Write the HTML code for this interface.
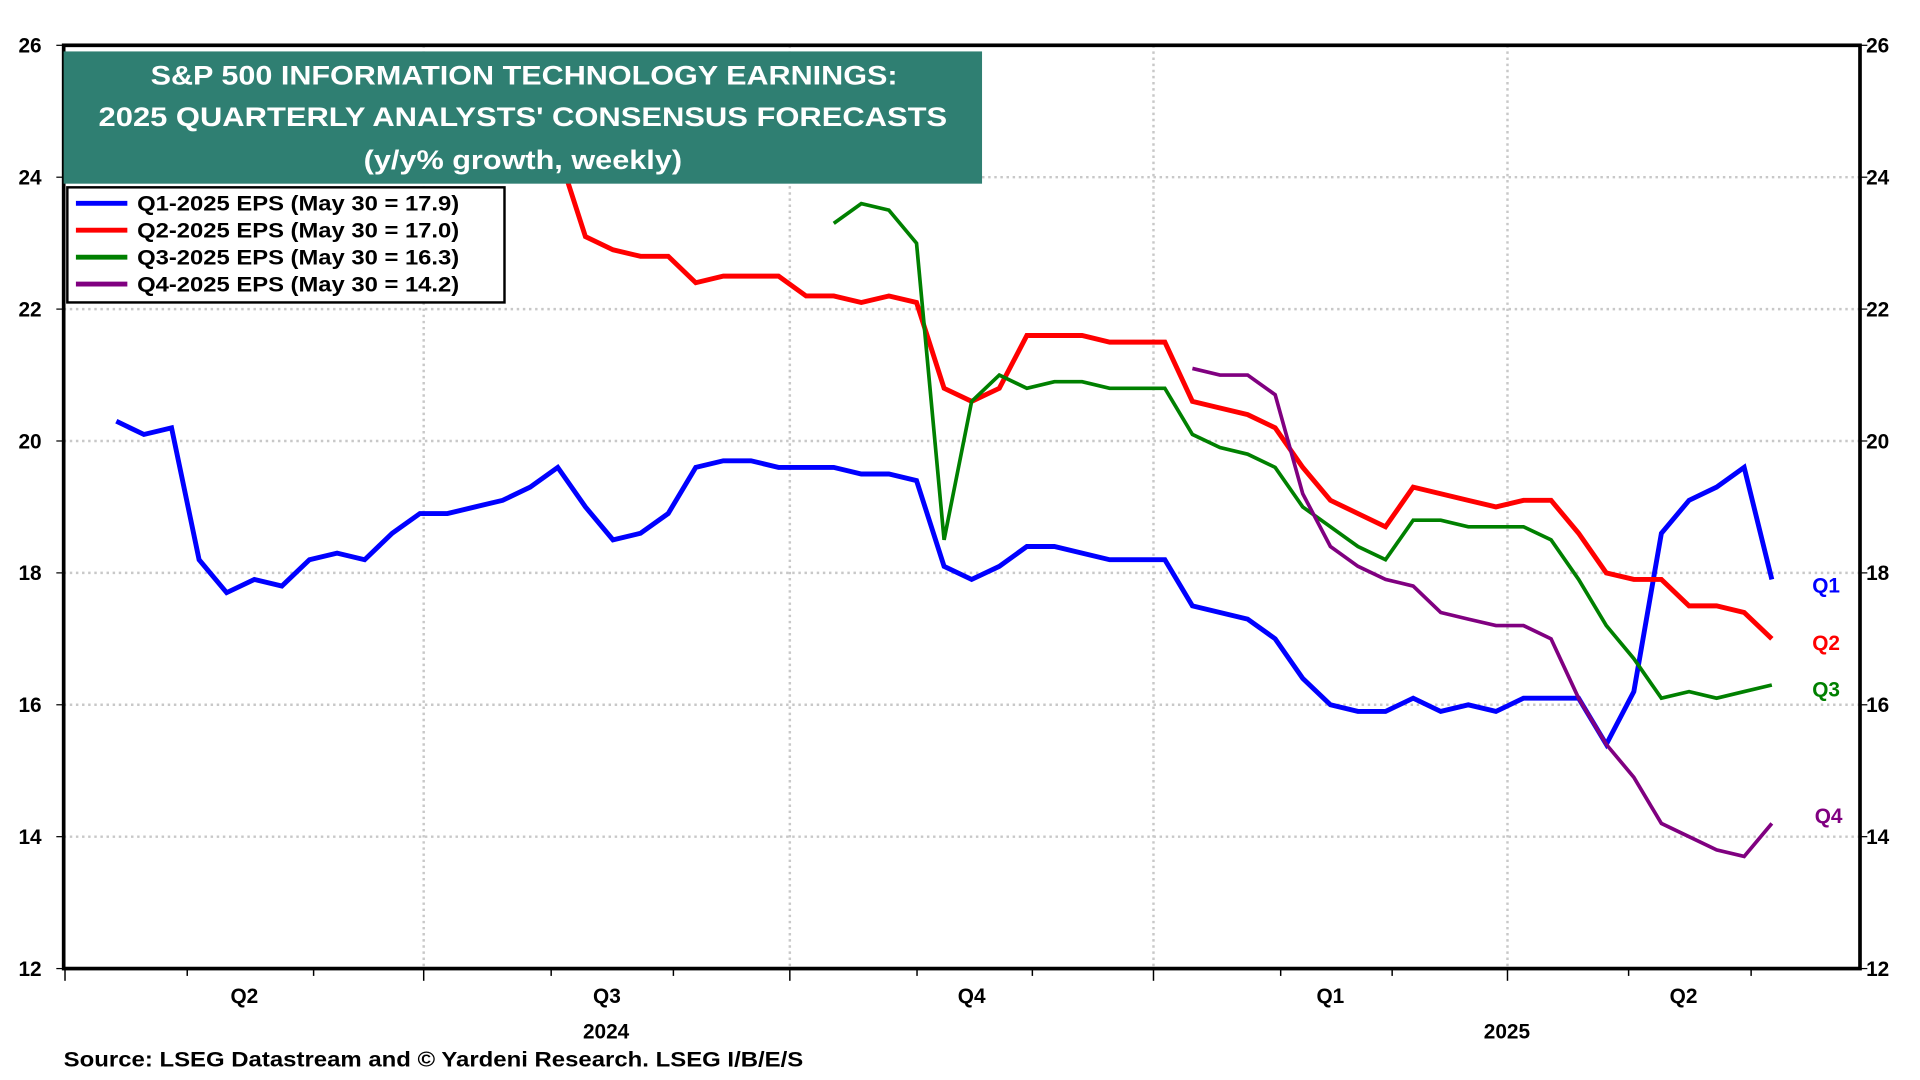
<!DOCTYPE html>
<html><head><meta charset="utf-8"><style>
html,body{margin:0;padding:0;background:#fff;}
svg{display:block;}
text{font-family:"Liberation Sans",Arial,sans-serif;font-weight:bold;}
</style></head><body>
<svg id="chart" width="1920" height="1080" viewBox="0 0 1568 882" preserveAspectRatio="none" xmlns="http://www.w3.org/2000/svg">
<g id="grid"></g>
<g id="series"></g>
<g id="axes"></g>
<rect x="52" y="42" width="750" height="108" fill="#2f7f72"/>
<text x="428" y="69" fill="#fff" font-size="22" text-anchor="middle" textLength="610" lengthAdjust="spacingAndGlyphs">S&amp;P 500 INFORMATION TECHNOLOGY EARNINGS:</text>
<text x="427" y="103" fill="#fff" font-size="22" text-anchor="middle" textLength="693" lengthAdjust="spacingAndGlyphs">2025 QUARTERLY ANALYSTS' CONSENSUS FORECASTS</text>
<text x="427" y="138" fill="#fff" font-size="22" text-anchor="middle" textLength="260" lengthAdjust="spacingAndGlyphs">(y/y% growth, weekly)</text>
<g>
<rect x="55" y="153" width="357" height="94" fill="#fff" stroke="#000" stroke-width="2"/>
<line x1="62" y1="166" x2="104" y2="166" stroke="#0000ff" stroke-width="4"/>
<text x="112" y="172" font-size="17" textLength="263" lengthAdjust="spacingAndGlyphs">Q1-2025 EPS (May 30 = 17.9)</text>
<line x1="62" y1="188" x2="104" y2="188" stroke="#ff0000" stroke-width="4"/>
<text x="112" y="194" font-size="17" textLength="263" lengthAdjust="spacingAndGlyphs">Q2-2025 EPS (May 30 = 17.0)</text>
<line x1="62" y1="210" x2="104" y2="210" stroke="#008000" stroke-width="4"/>
<text x="112" y="216" font-size="17" textLength="263" lengthAdjust="spacingAndGlyphs">Q3-2025 EPS (May 30 = 16.3)</text>
<line x1="62" y1="232" x2="104" y2="232" stroke="#800080" stroke-width="4"/>
<text x="112" y="238" font-size="17" textLength="263" lengthAdjust="spacingAndGlyphs">Q4-2025 EPS (May 30 = 14.2)</text>
</g>
<text x="1480" y="484" font-size="17" fill="#0000ff">Q1</text>
<text x="1480" y="531" font-size="17" fill="#ff0000">Q2</text>
<text x="1480" y="569" font-size="17" fill="#008000">Q3</text>
<text x="1482" y="672" font-size="17" fill="#800080">Q4</text>
<text x="52" y="871" font-size="17" textLength="604" lengthAdjust="spacingAndGlyphs">Source: LSEG Datastream and © Yardeni Research. LSEG I/B/E/S</text>
</svg>
<script>
const q1Values=[20.3,20.1,20.2,18.2,17.7,17.9,17.8,18.2,18.3,18.2,18.6,18.9,18.9,19.0,19.1,19.3,19.6,19.0,18.5,18.6,18.9,19.6,19.7,19.7,19.6,19.6,19.6,19.5,19.5,19.4,18.1,17.9,18.1,18.4,18.4,18.3,18.2,18.2,18.2,17.5,17.4,17.3,17.0,16.4,16.0,15.9,15.9,16.1,15.9,16.0,15.9,16.1,16.1,16.1,15.4,16.2,18.6,19.1,19.3,19.6,17.9];
const q2Start=16;
const q2Values=[24.4,23.1,22.9,22.8,22.8,22.4,22.5,22.5,22.5,22.2,22.2,22.1,22.2,22.1,20.8,20.6,20.8,21.6,21.6,21.6,21.5,21.5,21.5,20.6,20.5,20.4,20.2,19.6,19.1,18.9,18.7,19.3,19.2,19.1,19.0,19.1,19.1,18.6,18.0,17.9,17.9,17.5,17.5,17.4,17.0];
const q3Start=26;
const q3Values=[23.3,23.6,23.5,23.0,18.5,20.6,21.0,20.8,20.9,20.9,20.8,20.8,20.8,20.1,19.9,19.8,19.6,19.0,18.7,18.4,18.2,18.8,18.8,18.7,18.7,18.7,18.5,17.9,17.2,16.7,16.1,16.2,16.1,16.2,16.3];
const q4Start=39;
const q4Values=[21.1,21.0,21.0,20.7,19.2,18.4,18.1,17.9,17.8,17.4,17.3,17.2,17.2,17.0,16.1,15.4,14.9,14.2,14.0,13.8,13.7,14.2];
const yTicks=[12,14,16,18,20,22,24,26];
const monthTicks=[-1.86,2.57,7.15,11.14,15.76,20.19,24.41,29.02,33.2,37.59,42.2,46.24,50.42,54.81,59.25];
const majorTicks=[-1.86,11.14,24.41,37.59,50.42];
const quarterLabels=["Q2","Q3","Q4","Q1","Q2"];
const quarterCenters=[4.64,17.78,31.0,44.0,56.8];
const yearLabels=["2024","2025"];
const yearCenters=[17.75,50.4];

const L=52,R=1519,T=37,B=791;
const x=i=>95+i*22.533;
const y=v=>B-(v-12)*(B-T)/14;
const NS="http://www.w3.org/2000/svg";
function mk(tag,attrs,parent){const e=document.createElementNS(NS,tag);for(const k in attrs)e.setAttribute(k,attrs[k]);parent.appendChild(e);return e;}
const grid=document.getElementById('grid'),axes=document.getElementById('axes'),series=document.getElementById('series');

yTicks.forEach(v=>{
  if(v>12&&v<26){const g=mk('line',{x1:L,x2:R,y1:y(v),y2:y(v),stroke:'#c8c8c8','stroke-width':2,'stroke-dasharray':'2 3'},grid);
  
  }
  const tl=mk('text',{x:L-18,y:y(v)+6,'font-size':17,'text-anchor':'end'},axes);tl.textContent=v;
  
  
  const tr=mk('text',{x:R+5,y:y(v)+6,'font-size':17},axes);tr.textContent=v;
  
  
  mk('line',{x1:L-6,x2:L,y1:y(v),y2:y(v),stroke:'#000','stroke-width':1},axes);
  mk('line',{x1:R,x2:R+6,y1:y(v),y2:y(v),stroke:'#000','stroke-width':1},axes);
});
majorTicks.slice(1).forEach(m=>{
  const g=mk('line',{x1:x(m),x2:x(m),y1:T,y2:B,stroke:'#c8c8c8','stroke-width':2,'stroke-dasharray':'2 3'},grid);
  
  
});
monthTicks.forEach(m=>{
  const major=majorTicks.includes(m);
  mk('line',{x1:x(m),x2:x(m),y1:B,y2:B+(major?10:6),stroke:'#000','stroke-width':1.2},axes);
});
quarterLabels.forEach((q,k)=>{
  const t=mk('text',{x:x(quarterCenters[k]),y:819,'font-size':17,'text-anchor':'middle'},axes);t.textContent=q;
  
  
});
yearLabels.forEach((yy,k)=>{
  const t=mk('text',{x:x(yearCenters[k]),y:848,'font-size':17,'text-anchor':'middle'},axes);t.textContent=yy;
  
  
});
const frame=mk('rect',{x:L,y:T,width:R-L,height:B-T,fill:'none',stroke:'#000','stroke-width':3},axes);



function drawSeries(vals,start,color,w,name){
  const pts=vals.map((v,k)=>x(start+k).toFixed(1)+','+y(v).toFixed(1)).join(' ');
  const p=mk('polyline',{points:pts,fill:'none',stroke:color,'stroke-width':w,'stroke-linejoin':'miter'},series);
  
  
}
drawSeries(q1Values,0,'#0000ff',4,'q1-line');
drawSeries(q2Values,q2Start,'#ff0000',4,'q2-line');
drawSeries(q3Values,q3Start,'#008000',3,'q3-line');
drawSeries(q4Values,q4Start,'#800080',3,'q4-line');
</script>
</body></html>
